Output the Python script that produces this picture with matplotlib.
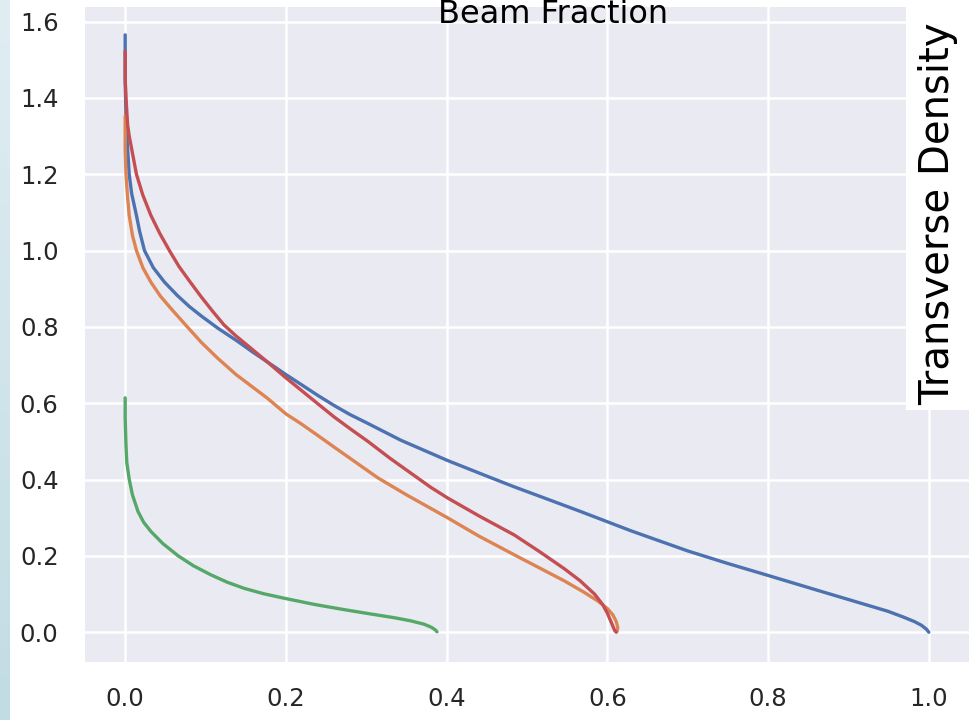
import numpy as np
import matplotlib
matplotlib.use("Agg")
import matplotlib.pyplot as plt
from matplotlib.patches import Rectangle

# ---- data (beam fraction x, transverse density y) ----
blue_x = [0.0, 0.0, 0.001, 0.002, 0.003, 0.005, 0.008, 0.014, 0.018, 0.024, 0.035, 0.049,
          0.065, 0.080, 0.095, 0.115, 0.140, 0.158, 0.177, 0.200, 0.219, 0.240, 0.260,
          0.280, 0.302, 0.343, 0.401, 0.450, 0.484, 0.525, 0.567, 0.629, 0.700, 0.750,
          0.798, 0.866, 0.949, 0.968, 0.982, 0.991, 0.997, 1.0]
blue_y = [1.565, 1.45, 1.35, 1.30, 1.267, 1.2, 1.15, 1.092, 1.05, 1.0, 0.955, 0.917,
          0.882, 0.853, 0.828, 0.797, 0.762, 0.735, 0.708, 0.675, 0.649, 0.620, 0.594,
          0.570, 0.547, 0.503, 0.450, 0.409, 0.381, 0.349, 0.316, 0.266, 0.213, 0.180,
          0.150, 0.107, 0.055, 0.040, 0.028, 0.018, 0.008, 0.0]

orange_x = [0.0, 0.0, 0.001, 0.003, 0.005, 0.009, 0.014, 0.022, 0.032, 0.044, 0.057,
            0.076, 0.0945, 0.115, 0.138, 0.160, 0.177, 0.200, 0.219, 0.240, 0.260, 0.287,
            0.314, 0.350, 0.401, 0.440, 0.484, 0.515, 0.546, 0.570, 0.588, 0.600, 0.607,
            0.611, 0.613, 0.612]
orange_y = [1.353, 1.267, 1.2, 1.14, 1.092, 1.04, 1.0, 0.955, 0.917, 0.880, 0.848,
            0.803, 0.760, 0.718, 0.675, 0.640, 0.613, 0.572, 0.546, 0.515, 0.485, 0.445,
            0.405, 0.360, 0.300, 0.252, 0.203, 0.169, 0.135, 0.106, 0.082, 0.062, 0.045,
            0.028, 0.012, 0.002]

green_x = [0.0, 0.0, 0.001, 0.002, 0.005, 0.009, 0.016, 0.023, 0.032, 0.047, 0.066, 0.085,
           0.107, 0.127, 0.148, 0.172, 0.198, 0.235, 0.273, 0.305, 0.335, 0.355, 0.372,
           0.381, 0.386, 0.388]
green_y = [0.614, 0.560, 0.490, 0.445, 0.401, 0.360, 0.316, 0.288, 0.264, 0.232, 0.200,
           0.174, 0.150, 0.131, 0.115, 0.101, 0.089, 0.073, 0.059, 0.048, 0.038, 0.030,
           0.021, 0.013, 0.006, 0.001]

red_x = [0.0, 0.0, 0.001, 0.003, 0.005, 0.008, 0.014, 0.022, 0.032, 0.043, 0.055, 0.067,
         0.080, 0.0945, 0.108, 0.123, 0.138, 0.153, 0.177, 0.198, 0.219, 0.240, 0.260,
         0.280, 0.302, 0.330, 0.360, 0.380, 0.401, 0.440, 0.484, 0.515, 0.546, 0.566,
         0.584, 0.594, 0.600, 0.604, 0.607, 0.609, 0.611]
red_y = [1.522, 1.45, 1.40, 1.33, 1.30, 1.267, 1.2, 1.145, 1.092, 1.045, 1.0, 0.958,
         0.920, 0.879, 0.843, 0.805, 0.776, 0.750, 0.708, 0.670, 0.634, 0.598, 0.564,
         0.533, 0.500, 0.455, 0.410, 0.380, 0.352, 0.305, 0.255, 0.212, 0.167, 0.135,
         0.100, 0.073, 0.050, 0.030, 0.015, 0.005, 0.0]

x_ticks = [0.0, 0.2, 0.4, 0.6, 0.8, 1.0]
y_ticks = [0.0, 0.2, 0.4, 0.6, 0.8, 1.0, 1.2, 1.4, 1.6]

colors = ["#4c72b0", "#dd8452", "#55a868", "#c44e52"]

W, H = 974, 720
fig = plt.figure(figsize=(W / 100, H / 100), dpi=100)
fig.patch.set_facecolor("white")

# left gradient strip
sax = fig.add_axes([0, 0, 10 / W, 1])
grad = np.linspace(0, 1, 256)[:, None]
c_top = np.array([224, 238, 242]) / 255
c_bot = np.array([194, 220, 228]) / 255
img = c_top[None, None, :] * (1 - grad[:, :, None]) + c_bot[None, None, :] * grad[:, :, None]
sax.imshow(img, aspect="auto", extent=[0, 1, 0, 1])
sax.set_axis_off()

ax = fig.add_axes([85 / W, 1 - 662 / H, (969 - 85) / W, (662 - 7) / H])
ax.set_facecolor("#eaeaf2")
for s in ax.spines.values():
    s.set_visible(False)
ax.grid(True, color="white", linewidth=1.8)
ax.set_axisbelow(True)

lw = 2.4
for xs, ys, c in [(blue_x, blue_y, colors[0]), (orange_x, orange_y, colors[1]),
                  (green_x, green_y, colors[2]), (red_x, red_y, colors[3])]:
    ax.plot(xs, ys, color=c, lw=lw, solid_joinstyle="round", solid_capstyle="round")

ax.set_xticks(x_ticks)
ax.set_yticks(y_ticks)
ax.set_xticklabels([f"{v:.1f}" for v in x_ticks])
ax.set_yticklabels([f"{v:.1f}" for v in y_ticks])
ax.set_xlim(-0.05, 1.05)
ax.set_ylim(-0.078, 1.638)
ax.tick_params(axis="x", length=0, pad=18, labelsize=17.5, labelcolor="#262626")
ax.tick_params(axis="y", length=0, pad=19, labelsize=17.5, labelcolor="#262626")

# overlay title
fig.text(553 / W, 1 - 23 / H, "Beam Fraction", ha="center", va="baseline",
         fontsize=23, color="black", family="DejaVu Sans")

# white box with rotated label
fig.patches.append(Rectangle((906 / W, 1 - 410 / H), (W - 906) / W, 410 / H,
                             transform=fig.transFigure, facecolor="white",
                             edgecolor="none", zorder=5))
fig.text(938 / W, 1 - 214 / H, "Transverse Density", rotation=90, ha="center",
         va="center", fontsize=29, color="black", family="DejaVu Sans", zorder=6)

fig.savefig("out.png", dpi=100)
